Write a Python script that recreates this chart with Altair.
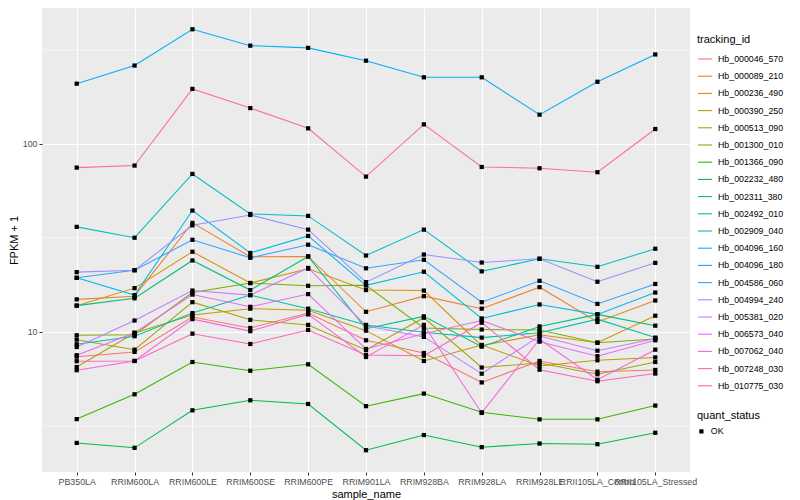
import altair as alt
import pandas as pd

samples = ["PB350LA", "RRIM600LA", "RRIM600LE", "RRIM600SE", "RRIM600PE", "RRIM901LA",
           "RRIM928BA", "RRIM928LA", "RRIM928LE", "RRII105LA_Control", "RRII105LA_Stressed"]

ids = ["Hb_000046_570", "Hb_000089_210", "Hb_000236_490", "Hb_000390_250", "Hb_000513_090",
       "Hb_001300_010", "Hb_001366_090", "Hb_002232_480", "Hb_002311_380", "Hb_002492_010",
       "Hb_002909_040", "Hb_004096_160", "Hb_004096_180", "Hb_004586_060", "Hb_004994_240",
       "Hb_005381_020", "Hb_006573_040", "Hb_007062_040", "Hb_007248_030", "Hb_010775_030"]

hb_000046_570 = [7.39, 7.83, 12.0, 10.5, 12.6, 9.03, 7.73, 5.39, 7.01, 6.15, 6.28]
hb_000089_210 = [14.9, 15.5, 38.0, 25.1, 25.2, 12.8, 15.5, 13.3, 17.3, 11.3, 14.7]
hb_000236_490 = [13.8, 17.1, 26.7, 18.2, 21.7, 16.7, 16.6, 8.46, 9.67, 8.77, 12.2]
hb_000390_250 = [6.51, 9.88, 12.3, 13.3, 13.05, 10.16, 7.01, 8.53, 6.59, 7.07, 7.32]
hb_000513_090 = [9.10, 8.05, 14.4, 11.6, 10.9, 8.02, 11.9, 6.47, 6.84, 5.96, 6.92]
hb_001300_010 = [9.60, 9.67, 16.2, 18.2, 17.6, 17.7, 10.5, 10.3, 10.25, 8.77, 9.18]
hb_001366_090 = [3.44, 4.66, 6.92, 6.22, 6.73, 4.03, 4.70, 3.74, 3.43, 3.43, 4.06]
hb_002232_480 = [2.57, 2.42, 3.83, 4.33, 4.14, 2.35, 2.83, 2.44, 2.55, 2.53, 2.91]
hb_002311_380 = [13.8, 15.1, 24.0, 16.7, 25.2, 10.4, 12.1, 8.35, 10.7, 12.4, 10.8]
hb_002492_010 = [8.60, 9.49, 12.6, 15.7, 13.3, 10.9, 9.96, 9.33, 9.91, 11.7, 9.33]
hb_002909_040 = [36.2, 31.7, 69.2, 42.4, 41.4, 25.5, 35.0, 21.0, 24.5, 22.2, 27.7]
hb_004096_160 = [19.4, 15.7, 44.2, 26.3, 32.4, 17.7, 20.9, 11.8, 14.0, 12.4, 16.2]
hb_004096_180 = [209, 261, 407, 333, 324, 277, 226, 226, 143, 214, 299]
hb_004586_060 = [19.4, 21.3, 30.9, 24.8, 29.1, 21.8, 24.2, 14.4, 18.7, 14.1, 18.0]
hb_004994_240 = [20.8, 21.3, 36.9, 41.9, 35.0, 18.4, 25.8, 23.4, 24.5, 18.5, 23.3]
hb_005381_020 = [8.32, 11.5, 16.6, 15.7, 21.9, 10.8, 9.41, 6.00, 9.52, 7.95, 9.23]
hb_006573_040 = [7.52, 9.91, 15.8, 13.6, 15.9, 8.12, 9.79, 11.5, 8.88, 7.43, 9.03]
hb_007062_040 = [6.26, 7.01, 11.7, 10.1, 12.4, 7.36, 10.9, 3.71, 9.14, 5.57, 8.05]
hb_007248_030 = [6.99, 7.01, 9.79, 8.63, 10.25, 7.55, 7.48, 11.2, 6.30, 5.47, 6.01]
hb_010775_030 = [74.8, 76.7, 196, 155, 121, 67.0, 127, 75.4, 74.2, 70.7, 120]

series = [hb_000046_570, hb_000089_210, hb_000236_490, hb_000390_250, hb_000513_090,
          hb_001300_010, hb_001366_090, hb_002232_480, hb_002311_380, hb_002492_010,
          hb_002909_040, hb_004096_160, hb_004096_180, hb_004586_060, hb_004994_240,
          hb_005381_020, hb_006573_040, hb_007062_040, hb_007248_030, hb_010775_030]

major_breaks = [10, 100]
minor_breaks = [3.1623, 31.623, 316.23]

palette = ["#F8766D", "#EA8331", "#D89000", "#C09B00", "#A3A500", "#7CAE00", "#39B600",
           "#00BB4E", "#00BF7D", "#00C1A3", "#00BFC4", "#00BAE0", "#00B0F6", "#35A2FF",
           "#9590FF", "#C77CFF", "#E76BF3", "#FA62DB", "#FF62BC", "#FF6C91"]

rows = []
for tid, vals in zip(ids, series):
    for i, (s, v) in enumerate(zip(samples, vals)):
        rows.append({"tracking_id": tid, "sample_name": s, "idx": i, "fpkm": v, "quant_status": "OK"})
df = pd.DataFrame(rows)
minor_df = pd.DataFrame({"fpkm": minor_breaks})

FONT = "Liberation Sans"

xscale = alt.Scale(type="point", padding=0.6)
xenc = alt.X("sample_name:N", sort=samples, title="sample_name", scale=xscale,
             axis=alt.Axis(labelAngle=0, labelOverlap=False, grid=True, titlePadding=3))
yscale = alt.Scale(type="log", domain=[1.8, 528], nice=False, zero=False)
yaxis = alt.Axis(values=major_breaks, format="~g", grid=True, titlePadding=3)

minor = alt.Chart(minor_df).mark_rule(color="white", strokeWidth=0.55).encode(
    y=alt.Y("fpkm:Q", scale=yscale, title="FPKM + 1", axis=yaxis)
)

lines = alt.Chart(df).mark_line(strokeWidth=1.05).encode(
    x=xenc,
    y=alt.Y("fpkm:Q", scale=yscale, title="FPKM + 1", axis=yaxis),
    color=alt.Color("tracking_id:N", scale=alt.Scale(domain=ids, range=palette),
                    legend=alt.Legend(title="tracking_id", orient="none", legendX=655, legendY=26,
                                      symbolType="stroke", symbolSize=196, symbolStrokeWidth=1.1,
                                      rowPadding=4.2)),
    order="idx:Q",
    detail="tracking_id:N",
)

points = alt.Chart(df).mark_point(filled=True, size=18, color="black", opacity=1).encode(
    x=alt.X("sample_name:N", sort=samples, scale=xscale, title="sample_name"),
    y=alt.Y("fpkm:Q", scale=yscale, title="FPKM + 1"),
    shape=alt.Shape("quant_status:N", scale=alt.Scale(domain=["OK"], range=["square"]),
                    legend=alt.Legend(title="quant_status", orient="none", legendX=655, legendY=402,
                                      symbolSize=18, symbolFillColor="black", symbolStrokeColor="black")),
)

chart = alt.layer(minor, lines, points).properties(
    width=648, height=464,
    autosize=alt.AutoSizeParams(type="none"),
    padding={"left": 34, "top": 0, "right": 96, "bottom": 30},
).configure_view(
    fill="#EBEBEB", stroke=None
).configure_axis(
    labelFont=FONT, titleFont=FONT, labelColor="#4D4D4D", labelFontSize=8.8,
    titleFontSize=11, titleFontWeight="normal", titleColor="black",
    tickColor="#333333", tickSize=3, domain=False, gridColor="white", gridWidth=1.1,
    labelPadding=2
).configure_legend(
    labelFont=FONT, titleFont=FONT, labelFontSize=8.8, titleFontSize=11,
    titleFontWeight="normal", titleColor="black", labelColor="black", padding=0,
    titlePadding=6, labelOffset=5
)

chart.save("out.html", embed_options={"renderer": "svg", "actions": False})
